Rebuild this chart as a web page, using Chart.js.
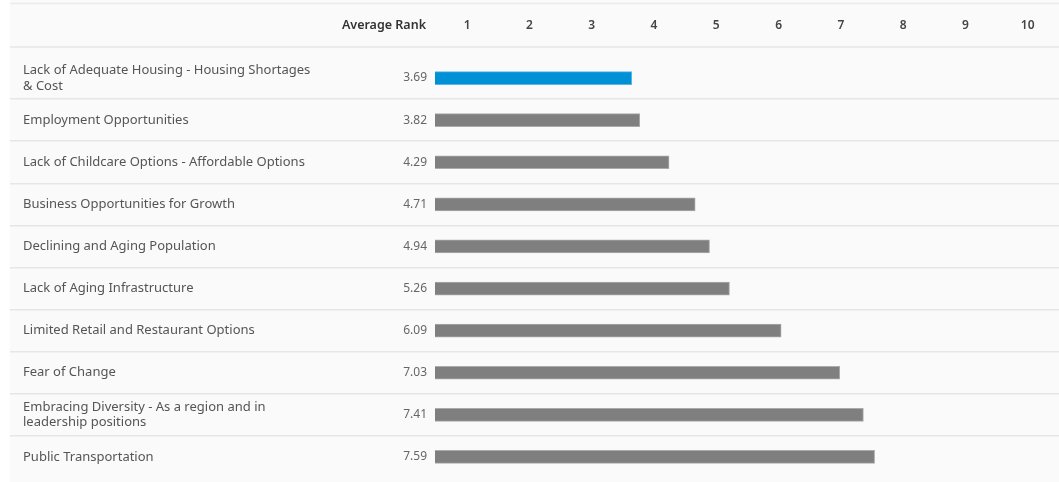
<!DOCTYPE html>
<html>
<head>
<meta charset="utf-8">
<script src="https://cdn.jsdelivr.net/npm/chart.js@4"></script>
<style>
  html, body { margin: 0; padding: 0; background: #fff; }
  #wrap { width: 1059px; height: 482px; position: relative; }
</style>
</head>
<body>
<div id="wrap"><canvas id="rankChart"></canvas></div>
<script>
const categories = [
  ['Lack of Adequate Housing - Housing Shortages', '& Cost'],
  'Employment Opportunities',
  'Lack of Childcare Options - Affordable Options',
  'Business Opportunities for Growth',
  'Declining and Aging Population',
  'Lack of Aging Infrastructure',
  'Limited Retail and Restaurant Options',
  'Fear of Change',
  ['Embracing Diversity - As a region and in', 'leadership positions'],
  'Public Transportation'
]
const avgRank = [3.69, 3.82, 4.29, 4.71, 4.94, 5.26, 6.09, 7.03, 7.41, 7.59]
const rankTicks = [1, 2, 3, 4, 5, 6, 7, 8, 9, 10]
const headerLabel = 'Average Rank'

const FONT = '"Noto Sans", sans-serif'
const BLUE = '#0090d5'
const GREY = '#7f7f7f'
const LINE = '#e6e6e6'

// background band, header row and value column
const tablePlugin = {
  id: 'tableDecor',
  beforeDraw(chart) {
    const { ctx, width, height } = chart
    ctx.save()
    ctx.fillStyle = '#fafafa'
    ctx.fillRect(10, 0, width - 10, height)
    ctx.strokeStyle = '#ebebeb'
    ctx.lineWidth = 1.5
    ctx.beginPath()
    ctx.moveTo(10, 3.5); ctx.lineTo(width, 3.5)
    ctx.stroke()
    ctx.strokeStyle = LINE
    ctx.beginPath()
    ctx.moveTo(10, 47); ctx.lineTo(width, 47)
    ctx.stroke()
    ctx.fillStyle = '#333'
    ctx.font = '600 12.5px ' + FONT
    ctx.textAlign = 'right'
    ctx.textBaseline = 'middle'
    ctx.fillText(headerLabel, 426, 25)
    ctx.restore()
  },
  afterDatasetsDraw(chart) {
    const { ctx } = chart
    const y = chart.scales.y
    ctx.save()
    ctx.fillStyle = '#666'
    ctx.font = '12px ' + FONT
    ctx.textAlign = 'right'
    ctx.textBaseline = 'middle'
    avgRank.forEach((v, i) => {
      ctx.fillText(v.toFixed(2), 427, y.getPixelForValue(i))
    })
    ctx.restore()
  }
}

new Chart(document.getElementById('rankChart'), {
  type: 'bar',
  data: {
    labels: categories,
    datasets: [{
      label: headerLabel,
      data: avgRank,
      backgroundColor: c => c.dataIndex === 0 ? BLUE : GREY,
      borderColor: c => c.dataIndex === 0 ? '#5ab3e6' : '#ababab',
      borderWidth: 1,
      barThickness: 13
    }]
  },
  options: {
    indexAxis: 'y',
    responsive: true, maintainAspectRatio: false,
    animation: false,
    layout: { padding: { left: 23, right: 0, top: 0, bottom: 4 } },
    plugins: { legend: { display: false }, tooltip: { enabled: false } },
    scales: {
      x: {
        position: 'top',
        min: 0.533, max: 10.55,
        afterFit: s => { s.height = 57 },
        grid: { display: false, drawTicks: false },
        border: { display: false },
        ticks: {
          stepSize: 1, includeBounds: false, autoSkip: false,
          padding: 24, labelOffset: 3,
          color: '#444',
          font: { family: FONT, size: 12, weight: '600' },
          callback: v => rankTicks.includes(v) ? String(v) : ''
        }
      },
      y: {
        afterFit: s => {
          s.width = 412
          s.paddingTop = 0
          s.paddingBottom = 0
        },
        border: { display: false },
        grid: {
          offset: true,
          drawTicks: true,
          tickLength: 425,
          lineWidth: 1.5,
          color: c => (c.type === 'tick' && c.index > 0) ? LINE : 'rgba(0,0,0,0)'
        },
        ticks: {
          crossAlign: 'far',
          autoSkip: false,
          color: '#555',
          font: { family: FONT, size: 13, lineHeight: 1.2 }
        }
      }
    }
  },
  plugins: [tablePlugin]
})
</script>
</body>
</html>
